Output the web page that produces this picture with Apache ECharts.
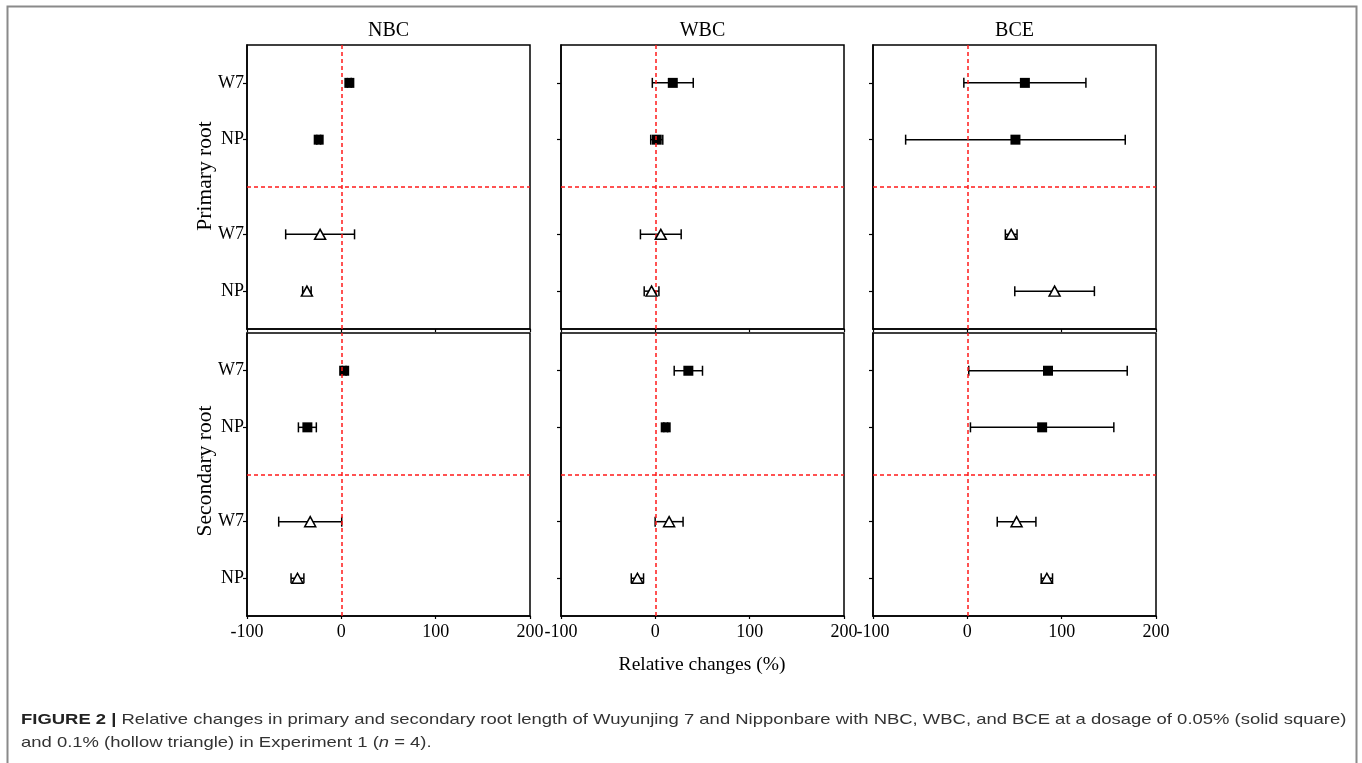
<!DOCTYPE html>
<html>
<head>
<meta charset="utf-8">
<script src="https://cdn.jsdelivr.net/npm/echarts@6/dist/echarts.min.js"></script>
<style>
html,body{margin:0;padding:0;background:#fff;}
#chart{width:1362px;height:763px;}
</style>
</head>
<body>
<div id="chart"></div>
<script>
// ---------- data ----------
const treatments = ['NBC', 'WBC', 'BCE'];
const rowNames = ['Primary root', 'Secondary root'];
// order of points in each array: [W7 0.05%, NP 0.05%, W7 0.1%, NP 0.1%]
const yTickLabels = ['W7', 'NP', 'W7', 'NP'];
const xTickValues = [-100, 0, 100, 200];

const NBC_primary_mean = [8.5, -24, -22.5, -36.5];
const NBC_primary_se   = [2, 2, 36.5, 4.5];
const WBC_primary_mean = [18.5, 1.5, 5.8, -4];
const WBC_primary_se   = [21.7, 6.4, 21.6, 7.8];
const BCE_primary_mean = [61, 51, 46.5, 92.5];
const BCE_primary_se   = [64.7, 116.4, 6.2, 42.2];

const NBC_secondary_mean = [3, -36, -33, -46.5];
const NBC_secondary_se   = [2, 9.5, 33.4, 6.8];
const WBC_secondary_mean = [35, 11, 14.6, -19];
const WBC_secondary_se   = [15, 2, 14.8, 6.5];
const BCE_secondary_mean = [85.5, 79.3, 52.2, 84.3];
const BCE_secondary_se   = [84, 76, 20.5, 6];

const captionBold = 'FIGURE 2 |';
const captionLine1 = ' Relative changes in primary and secondary root length of Wuyunjing 7 and Nipponbare with NBC, WBC, and BCE at a dosage of 0.05% (solid square)';
const captionLine2a = 'and 0.1% (hollow triangle) in Experiment 1 (';
const captionLine2b = 'n';
const captionLine2c = ' = 4).';

// ---------- layout ----------
const panelData = [
  [[NBC_primary_mean, NBC_primary_se], [WBC_primary_mean, WBC_primary_se], [BCE_primary_mean, BCE_primary_se]],
  [[NBC_secondary_mean, NBC_secondary_se], [WBC_secondary_mean, WBC_secondary_se], [BCE_secondary_mean, BCE_secondary_se]]
];
const slotPos = [26, 20, 10, 4];   // y positions of the four rows inside a panel (axis 0..30)
const dividerPos = 15;
const colLeft = [247, 561, 873];
const colWidth = 283;
const rowTop = [45, 333];
const rowHeight = [284, 283];

const serif = '"Liberation Serif", "DejaVu Serif", serif';

const grids = [], xAxes = [], yAxes = [], series = [];

for (let r = 0; r < 2; r++) {
  for (let c = 0; c < 3; c++) {
    const idx = r * 3 + c;
    grids.push({
      left: colLeft[c], top: rowTop[r], width: colWidth, height: rowHeight[r],
      show: true, borderColor: '#000', borderWidth: 1.5, backgroundColor: 'transparent'
    });
    xAxes.push({
      type: 'value', gridIndex: idx, min: -100, max: 200, interval: 100,
      axisLine: { show: true, onZero: false, lineStyle: { color: '#000', width: 1.5 } },
      axisTick: { show: true, length: 3, lineStyle: { color: '#000', width: 1.2 } },
      axisLabel: {
        show: r === 1, color: '#000', fontFamily: serif, fontSize: 18, margin: 7,
        showMinLabel: true, showMaxLabel: true
      },
      splitLine: { show: false }
    });
    yAxes.push({
      type: 'value', gridIndex: idx, min: 0, max: 30,
      axisLine: { show: true, onZero: false, lineStyle: { color: '#000', width: 1.5 } },
      axisTick: { show: true, length: 4, customValues: slotPos, lineStyle: { color: '#000', width: 1.2 } },
      axisLabel: {
        show: c === 0, customValues: slotPos, color: '#000', fontFamily: serif, fontSize: 18, margin: 3,
        formatter: function (v) { const k = slotPos.indexOf(v); return k >= 0 ? yTickLabels[k] : ''; }
      },
      splitLine: { show: false }
    });

    const mean = panelData[r][c][0], se = panelData[r][c][1];
    const errData = mean.map((m, k) => [m - se[k], m + se[k], slotPos[k]]);
    series.push({
      type: 'custom', xAxisIndex: idx, yAxisIndex: idx, z: 3, silent: true,
      encode: { x: [0, 1], y: 2 },
      data: errData,
      renderItem: function (params, api) {
        const y = api.value(2);
        const lo = api.coord([api.value(0), y]);
        const hi = api.coord([api.value(1), y]);
        const h = 5;
        const st = { stroke: '#000', lineWidth: 1.5 };
        return {
          type: 'group', children: [
            { type: 'line', shape: { x1: lo[0], y1: lo[1], x2: hi[0], y2: hi[1] }, style: st },
            { type: 'line', shape: { x1: lo[0], y1: lo[1] - h, x2: lo[0], y2: lo[1] + h }, style: st },
            { type: 'line', shape: { x1: hi[0], y1: hi[1] - h, x2: hi[0], y2: hi[1] + h }, style: st }
          ]
        };
      }
    });
    series.push({
      type: 'scatter', xAxisIndex: idx, yAxisIndex: idx, z: 4, silent: true,
      symbol: 'rect', symbolSize: 10,
      itemStyle: { color: '#000', opacity: 1 },
      data: [[mean[0], slotPos[0]], [mean[1], slotPos[1]]],
      markLine: {
        silent: true, symbol: ['none', 'none'], animation: false,
        label: { show: false },
        lineStyle: { color: '#ff1a1a', type: [4, 3], width: 1.5 },
        data: [{ xAxis: 0 }, { yAxis: dividerPos }]
      }
    });
    series.push({
      type: 'scatter', xAxisIndex: idx, yAxisIndex: idx, z: 5, silent: true,
      symbol: 'triangle', symbolSize: [11, 10],
      itemStyle: { color: '#fff', borderColor: '#000', borderWidth: 1.5, opacity: 1 },
      data: [[mean[2], slotPos[2]], [mean[3], slotPos[3]]]
    });
  }
}

const graphics = [
  { type: 'rect', shape: { x: 7.5, y: 6.5, width: 1349, height: 820 }, style: { fill: 'none', stroke: '#8a8a8a', lineWidth: 2 }, silent: true }
];
treatments.forEach((t, c) => {
  graphics.push({
    type: 'text', x: colLeft[c] + colWidth / 2, y: 31,
    style: { text: t, fontFamily: serif, fontSize: 20, fill: '#000', align: 'center', verticalAlign: 'middle' }
  });
});
const rowLabelY = [176, 471];
rowNames.forEach((n, r) => {
  graphics.push({
    type: 'text', x: 205, y: rowLabelY[r], rotation: Math.PI / 2,
    style: { text: n, fontFamily: serif, fontSize: 21.5, fill: '#000', align: 'center', verticalAlign: 'middle' }
  });
});
graphics.push({
  type: 'text', x: 702, y: 665,
  style: { text: 'Relative changes (%)', fontFamily: serif, fontSize: 19.5, fill: '#000', align: 'center', verticalAlign: 'middle' }
});
const capFont = '"Liberation Sans", Arial, sans-serif';
const capSize = 14.5;
const capScale = 1.272;
graphics.push({
  type: 'text', x: 21, y: 720, scaleX: capScale,
  style: {
    text: '{b|' + captionBold + '}{r|' + captionLine1 + '}',
    verticalAlign: 'middle', align: 'left',
    rich: {
      b: { fontFamily: capFont, fontSize: capSize, fontWeight: 'bold', fill: '#222' },
      r: { fontFamily: capFont, fontSize: capSize, fill: '#333' }
    }
  }
});
graphics.push({
  type: 'text', x: 21, y: 743, scaleX: capScale,
  style: {
    text: '{r|' + captionLine2a + '}{i|' + captionLine2b + '}{r|' + captionLine2c + '}',
    verticalAlign: 'middle', align: 'left',
    rich: {
      r: { fontFamily: capFont, fontSize: capSize, fill: '#333' },
      i: { fontFamily: capFont, fontSize: capSize, fontStyle: 'italic', fill: '#333' }
    }
  }
});

const chart = echarts.init(document.getElementById('chart'), null, { renderer: 'canvas' });
chart.setOption({
  backgroundColor: '#fff',
  animation: false,
  grid: grids,
  xAxis: xAxes,
  yAxis: yAxes,
  series: series,
  graphic: graphics
});
</script>
</body>
</html>
